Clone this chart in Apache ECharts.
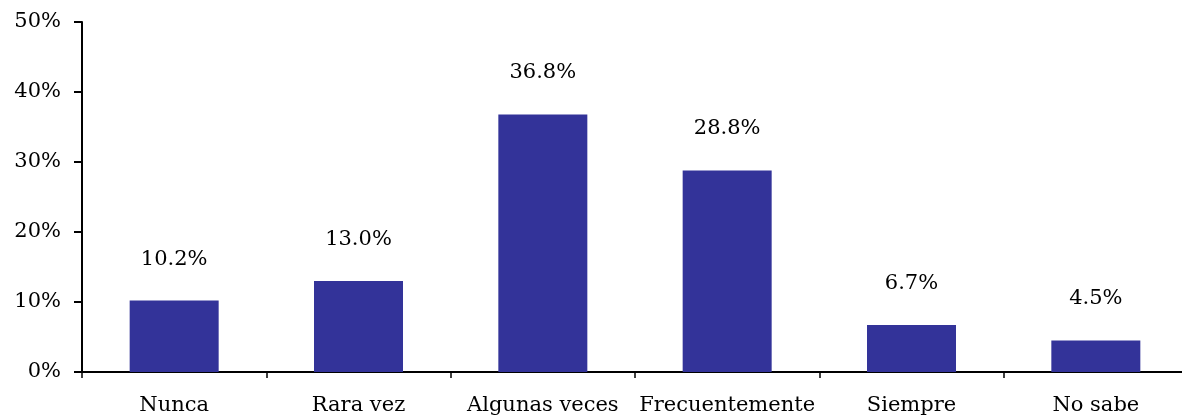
<!DOCTYPE html>
<html>
<head>
<meta charset="utf-8">
<script src="https://cdn.jsdelivr.net/npm/echarts@6/dist/echarts.min.js"></script>
<style>
  html, body { margin: 0; padding: 0; background: #fff; overflow: hidden; }
  #chart { width: 1188px; height: 416px; }
</style>
</head>
<body>
<div id="chart"></div>
<script>
var categories = ['Nunca', 'Rara vez', 'Algunas veces', 'Frecuentemente', 'Siempre', 'No sabe'];
var values = [10.2, 13.0, 36.8, 28.8, 6.7, 4.5];
var yTicks = [0, 10, 20, 30, 40, 50];

var font = '"DejaVu Serif", "Liberation Serif", serif';
const barChart = echarts.init(document.getElementById('chart'));
var option = {
    animation: false,
    grid: {
        left: 82,
        top: 22,
        bottom: 44,
        right: 0
    },
    xAxis: {
        type: 'category',
        data: categories,
        axisLine: { lineStyle: { color: '#000', width: 2 } },
        axisTick: { show: true, length: 6, lineStyle: { color: '#000', width: 1.5 } },
        axisLabel: {
            color: '#000',
            fontFamily: font,
            fontSize: 21,
            margin: 23,
            interval: 0
        }
    },
    yAxis: {
        type: 'value',
        min: yTicks[0],
        max: yTicks[yTicks.length - 1],
        interval: 10,
        splitLine: { show: false },
        axisLine: { show: true, lineStyle: { color: '#000', width: 2 } },
        axisTick: { show: true, length: 8, lineStyle: { color: '#000', width: 2 } },
        axisLabel: {
            color: '#000',
            fontFamily: font,
            fontSize: 21,
            margin: 21,
            formatter: '{value}%'
        }
    },
    series: [{
        type: 'bar',
        data: values,
        barWidth: 89,
        itemStyle: { color: '#333399' },
        label: {
            show: true,
            position: 'top',
            distance: 31,
            color: '#000',
            fontFamily: font,
            fontSize: 21,
            formatter: function (p) { return p.value.toFixed(1) + '%'; }
        }
    }]
};
barChart.setOption(option);
</script>
</body>
</html>
